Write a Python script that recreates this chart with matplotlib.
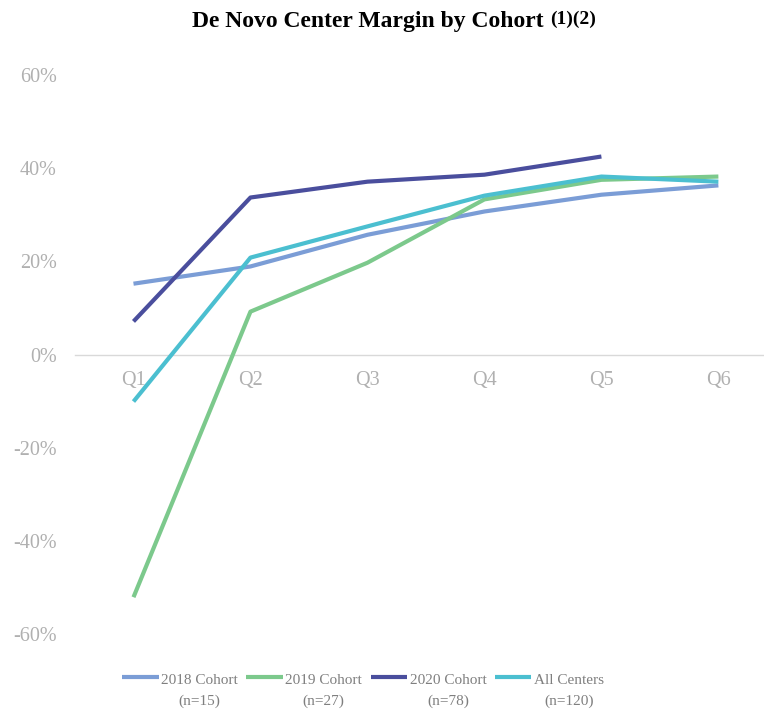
import numpy as np
import matplotlib
matplotlib.use('Agg')
import matplotlib.pyplot as plt

quarters = ['Q1', 'Q2', 'Q3', 'Q4', 'Q5', 'Q6']

# margins, in %
cohort_2018 = [15.2, 18.9, 25.7, 30.7, 34.3, 36.3]
cohort_2019 = [-52.1, 9.2, 19.7, 33.3, 37.5, 38.2]
cohort_2020 = [7.1, 33.7, 37.1, 38.6, 42.5]
all_centers = [-10.1, 20.8, 27.5, 34.1, 38.2, 37.1]

labels = ['2018 Cohort\n(n=15)', '2019 Cohort\n(n=27)',
          '2020 Cohort\n(n=78)', 'All Centers\n(n=120)']
colors = ['#7b9dd6', '#7cc98c', '#4a4e9d', '#4bbfd0']

y_ticks = [-60, -40, -20, 0, 20, 40, 60]

plt.rcParams['font.family'] = 'Liberation Serif'

fig = plt.figure(figsize=(7.64, 7.11), dpi=100)
ax = fig.add_axes([75 / 764, 1 - 634 / 711, 1 - 75 / 764, (634 - 75) / 711])

series = [cohort_2018, cohort_2019, cohort_2020, all_centers]
for vals, lab, col in zip(series, labels, colors):
    x = np.arange(len(vals))
    ax.plot(x, np.array(vals) / 100, color=col, linewidth=3,
            solid_capstyle='butt', solid_joinstyle='round', label=lab)

ax.set_xlim(-0.5, 5.39)
ax.set_ylim(-0.6, 0.6)
ax.set_yticks([t / 100 for t in y_ticks])
ax.set_yticklabels(['%d%%' % t for t in y_ticks])
ax.set_xticks(np.arange(len(quarters)))
ax.set_xticklabels(quarters)

for s in ['top', 'right', 'left']:
    ax.spines[s].set_visible(False)
ax.spines['bottom'].set_position(('data', 0))
ax.spines['bottom'].set_color('#d9d9d9')
ax.spines['bottom'].set_linewidth(1.0)
ax.spines['bottom'].set_zorder(0)

ax.tick_params(axis='both', length=0, labelsize=14.5, labelcolor='#b0b0b0')
ax.tick_params(axis='y', pad=13)
ax.tick_params(axis='x', pad=12)

# title with superscript footnote marks
fig.text(192 / 764, 1 - 27 / 711, 'De Novo Center Margin by Cohort',
         fontsize=17, fontweight='bold', ha='left', va='baseline')
fig.text(550 / 764, 1 - 23.5 / 711, '(1)(2)',
         fontsize=14, fontweight='bold', ha='left', va='baseline')

leg = fig.legend(loc='center', bbox_to_anchor=(363 / 764, 1 - 691 / 711),
                 ncol=4, frameon=False, fontsize=11, handlelength=2.4,
                 handletextpad=0.15, columnspacing=0.55, labelcolor='#7f7f7f')
for t in leg.get_texts():
    t.set_multialignment('center')
    t.set_linespacing(1.7)
for ln in leg.get_lines():
    ln.set_linewidth(3)
    yd = ln.get_ydata()
    ln.set_ydata(np.asarray(yd) + 9.5)

fig.savefig('out.png', dpi=100)
